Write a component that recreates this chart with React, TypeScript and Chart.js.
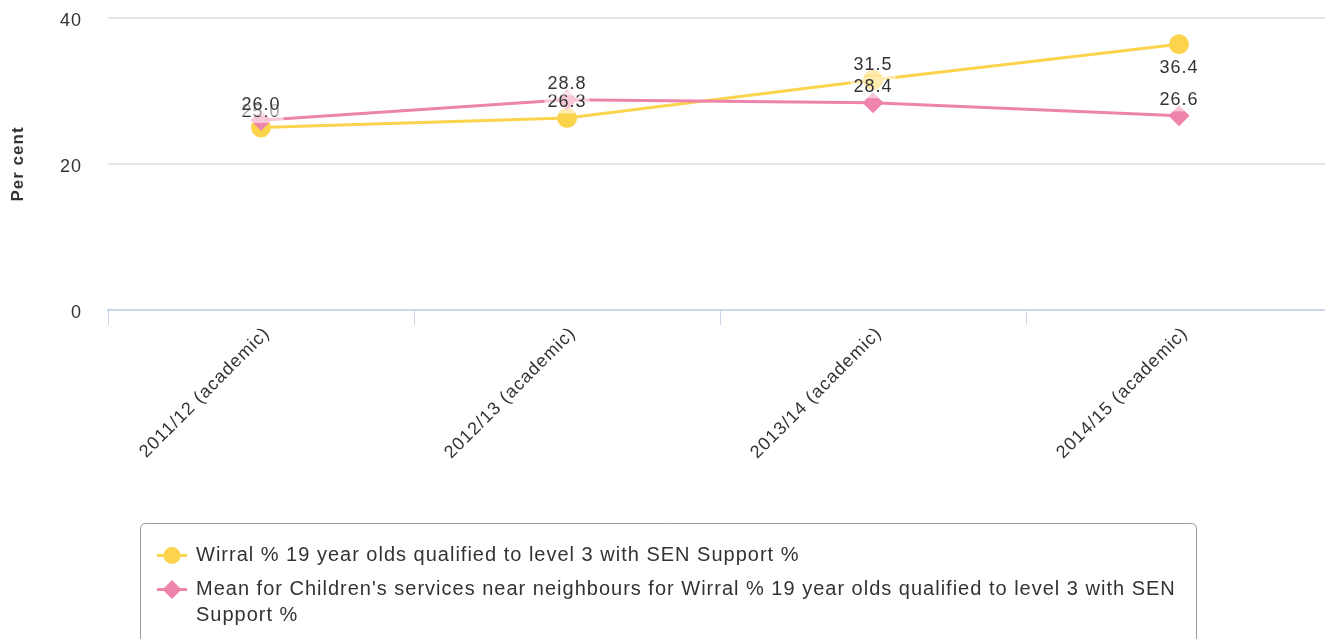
import React, { useEffect, useRef } from "react";
import { Chart, registerables } from "chart.js";

Chart.register(...registerables);

// ---- data ----
const categories = [
  "2011/12 (academic)",
  "2012/13 (academic)",
  "2013/14 (academic)",
  "2014/15 (academic)",
];
const wirralValues = [25.0, 26.3, 31.5, 36.4];
const neighbourValues = [26.0, 28.8, 28.4, 26.6];
const seriesNames = [
  "Wirral % 19 year olds qualified to level 3 with SEN Support %",
  "Mean for Children's services near neighbours for Wirral % 19 year olds qualified to level 3 with SEN Support %",
];
const yTicks = [0, 20, 40];
const yTitle = "Per cent";

// ---- style ----
const FONT = "'Liberation Sans', Arial, Helvetica, sans-serif";
const YELLOW = "rgb(252, 211, 77)";
const PINK = "rgb(238, 131, 172)";
const TEXT = "#333333";
const CANVAS_W = 1332;
const CANVAS_H = 639;

const spacingPlugin = {
  id: "letterSpacing",
  beforeLayout(chart: any) {
    chart.ctx.letterSpacing = "1px";
  },
  beforeDraw(chart: any) {
    chart.ctx.letterSpacing = "1px";
  },
};

const dataLabelPlugin = {
  id: "dataLabels",
  afterDatasetsDraw(chart: any) {
    const ctx = chart.ctx;
    ctx.save();
    ctx.font = `18px ${FONT}`;
    ctx.textAlign = "center";
    ctx.textBaseline = "middle";
    chart.data.datasets.forEach((ds: any, di: number) => {
      const meta = chart.getDatasetMeta(di);
      meta.data.forEach((pt: any, i: number) => {
        const v = ds.data[i] as number;
        const text = v.toFixed(1);
        let y = pt.y - 15.5;
        if (y - 12 < chart.chartArea.top) y = pt.y + 23.5;
        const w = ctx.measureText(text).width;
        ctx.fillStyle = "rgba(255,255,255,0.55)";
        ctx.fillRect(pt.x - w / 2 - 3, y - 11, w + 6, 22);
        ctx.fillStyle = TEXT;
        ctx.fillText(text, pt.x, y);
      });
    });
    ctx.restore();
  },
};

function wrapText(ctx: CanvasRenderingContext2D, text: string, maxWidth: number) {
  const words = text.split(" ");
  const lines: string[] = [];
  let cur = "";
  for (const w of words) {
    const test = cur ? cur + " " + w : w;
    if (ctx.measureText(test).width > maxWidth && cur) {
      lines.push(cur);
      cur = w;
    } else {
      cur = test;
    }
  }
  if (cur) lines.push(cur);
  return lines;
}

const legendPlugin = {
  id: "boxLegend",
  afterDraw(chart: any) {
    const ctx: CanvasRenderingContext2D = chart.ctx;
    ctx.save();
    const bx = 140.5;
    const by = 523.5;
    const bw = 1056;
    const bh = 160;
    ctx.strokeStyle = "#999999";
    ctx.lineWidth = 1;
    ctx.beginPath();
    (ctx as any).roundRect(bx, by, bw, bh, 5);
    ctx.stroke();

    ctx.font = `20px ${FONT}`;
    ctx.textBaseline = "middle";
    ctx.textAlign = "left";
    const textX = 196;
    const maxW = bx + bw - textX - 8;
    let y = 555.5;
    chart.data.datasets.forEach((ds: any) => {
      const color = ds.borderColor as string;
      ctx.strokeStyle = color;
      ctx.lineWidth = 3;
      ctx.beginPath();
      ctx.moveTo(157, y);
      ctx.lineTo(187, y);
      ctx.stroke();
      ctx.fillStyle = color;
      ctx.beginPath();
      if (ds.pointStyle === "rectRot") {
        const r = 9.5;
        ctx.moveTo(172 - r, y);
        ctx.lineTo(172, y - r);
        ctx.lineTo(172 + r, y);
        ctx.lineTo(172, y + r);
        ctx.closePath();
      } else {
        ctx.arc(172, y, 8.5, 0, Math.PI * 2);
      }
      ctx.fill();
      ctx.fillStyle = TEXT;
      const lines = wrapText(ctx, ds.label as string, maxW);
      lines.forEach((ln, j) => ctx.fillText(ln, textX, y + j * 26));
      y += lines.length * 26 + 8;
    });
    ctx.restore();
  },
};

export default function App() {
  const canvasRef = useRef<HTMLCanvasElement | null>(null);

  useEffect(() => {
    const canvas = canvasRef.current;
    if (!canvas) return;
    const chart = new Chart(canvas, {
      type: "line",
      data: {
        labels: categories,
        datasets: [
          {
            label: seriesNames[0],
            data: wirralValues,
            borderColor: YELLOW,
            backgroundColor: YELLOW,
            borderWidth: 3,
            pointStyle: "circle",
            pointRadius: 10,
            pointHoverRadius: 10,
            pointBorderWidth: 0,
            pointBackgroundColor: YELLOW,
            tension: 0,
            fill: false,
            order: 1,
          },
          {
            label: seriesNames[1],
            data: neighbourValues,
            borderColor: PINK,
            backgroundColor: PINK,
            borderWidth: 3,
            pointStyle: "rectRot",
            pointRadius: 10.5,
            pointHoverRadius: 10.5,
            pointBorderWidth: 0,
            pointBackgroundColor: PINK,
            tension: 0,
            fill: false,
            order: 0,
          },
        ],
      },
      options: {
        responsive: false,
        devicePixelRatio: 1,
        animation: false,
        layout: { autoPadding: false, padding: { top: 18, left: 0, right: 0, bottom: 0 } },
        plugins: {
          legend: { display: false },
          tooltip: { enabled: false },
        },
        scales: {
          x: {
            type: "category",
            offset: true,
            grid: {
              offset: true,
              drawOnChartArea: false,
              drawTicks: true,
              tickLength: 15,
              color: "#ccd6eb",
              lineWidth: 1,
            },
            border: { display: true, color: "#ccd6eb", width: 2 },
            ticks: {
              autoSkip: false,
              maxRotation: 45,
              minRotation: 45,
              padding: -2,
              labelOffset: 6,
              color: TEXT,
              font: { size: 18, family: FONT },
            },
            afterFit: (s: any) => {
              s.height = CANVAS_H - 310;
              s.paddingLeft = 0;
              s.paddingRight = 0;
            },
          },
          y: {
            min: 0,
            max: 40,
            afterBuildTicks: (s: any) => {
              s.ticks = yTicks.map((v) => ({ value: v }));
            },
            grid: { color: "#e6e6e6", lineWidth: 2, drawTicks: false },
            border: { display: false },
            ticks: {
              padding: 26,
              labelOffset: 3,
              color: TEXT,
              font: { size: 18, family: FONT },
            },
            title: {
              display: true,
              text: yTitle,
              color: TEXT,
              font: { size: 17, weight: "bold", family: FONT },
              padding: { top: 8, bottom: 0 },
            },
            afterFit: (s: any) => {
              s.width = 108;
              s.paddingTop = 0;
              s.paddingBottom = 0;
            },
          },
        },
      },
      plugins: [spacingPlugin, dataLabelPlugin, legendPlugin],
    } as any);
    return () => chart.destroy();
  }, []);

  return (
    <div
      style={{
        position: "fixed",
        left: 0,
        top: 0,
        width: 1325,
        height: 639,
        overflow: "hidden",
        background: "#ffffff",
      }}
    >
      <canvas
        ref={canvasRef}
        width={CANVAS_W}
        height={CANVAS_H}
        style={{ display: "block", width: CANVAS_W, height: CANVAS_H }}
      />
    </div>
  );
}
